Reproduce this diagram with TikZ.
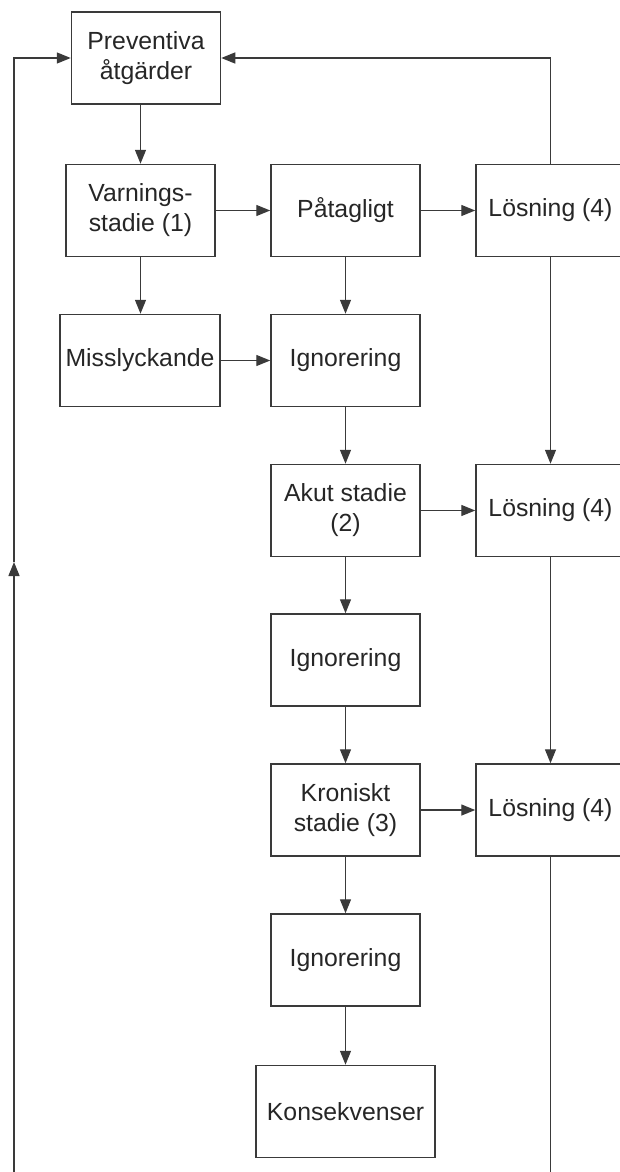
\documentclass[tikz,border=0pt]{standalone}
\usepackage{fontspec}
\setmainfont{Liberation Sans}
\usetikzlibrary{arrows.meta}
\definecolor{linegray}{HTML}{3A3A3A}
\tikzset{
  box/.style={draw=linegray, line width=0.75pt, rectangle, align=center, minimum width=74.5pt, minimum height=46pt, inner sep=1pt, font=\fontsize{12.4}{15}\selectfont, text=black!85},
  arr/.style={draw=linegray, line width=0.7pt, -{Triangle[length=7pt, width=5.5pt]}},
  ln/.style={draw=linegray, line width=0.7pt}
}
\begin{document}
\begin{tikzpicture}[x=0.5pt, y=-0.5pt]
        \useasboundingbox (0, 0) rectangle (620, 1172);

        \draw (146, 58) node[box] (prev) {Preventiva\\åtgärder};
        \draw (140.5, 210.5) node[box] (varn) {Varnings-\\stadie (1)};
        \draw (345.5, 210.5) node[box] (pata) {Påtagligt};
        \draw (550.5, 210.5) node[box] (los1) {Lösning (4)};
        \draw (140, 360.5) node[box, minimum width=80pt] (miss) {Misslyckande};
        \draw (345.5, 360.5) node[box] (ign1) {Ignorering};
        \draw (345.5, 510.5) node[box] (akut) {Akut stadie\\(2)};
        \draw (550.5, 510.5) node[box] (los2) {Lösning (4)};
        \draw (345.5, 660) node[box] (ign2) {Ignorering};
        \draw (345.5, 810) node[box] (kron) {Kroniskt\\stadie (3)};
        \draw (550.5, 810) node[box] (los3) {Lösning (4)};
        \draw (345.5, 960) node[box] (ign3) {Ignorering};
        \draw (345.5, 1111.5) node[box, minimum width=89.5pt] (kons) {Konsekvenser};

        \coordinate (bl) at (14, 1190);
        \coordinate (lm) at (14, 562);
        \coordinate (br) at (550.5, 1190);

        \draw [arr] (varn.north |- prev.south) to (varn.north);
        \draw [arr] (varn) to (pata);
        \draw [arr] (pata) to (los1);
        \draw [arr] (varn.south) to (miss.north -| varn.south);
        \draw [arr] (pata) to (ign1);
        \draw [arr] (miss) to (ign1);
        \draw [arr] (ign1) to (akut);
        \draw [arr] (akut) to (los2);
        \draw [arr] (los1) to (los2);
        \draw [arr] (akut) to (ign2);
        \draw [arr] (ign2) to (kron);
        \draw [arr] (kron) to (los3);
        \draw [arr] (los2) to (los3);
        \draw [arr] (kron) to (ign3);
        \draw [arr] (ign3) to (kons);
        \draw [ln] (los3) to (br);
        \draw [arr] (los1.north) |- (prev.east);
        \draw [arr] (bl) to (lm);
        \draw [arr] (lm) |- (prev.west);

\end{tikzpicture}
\end{document}
